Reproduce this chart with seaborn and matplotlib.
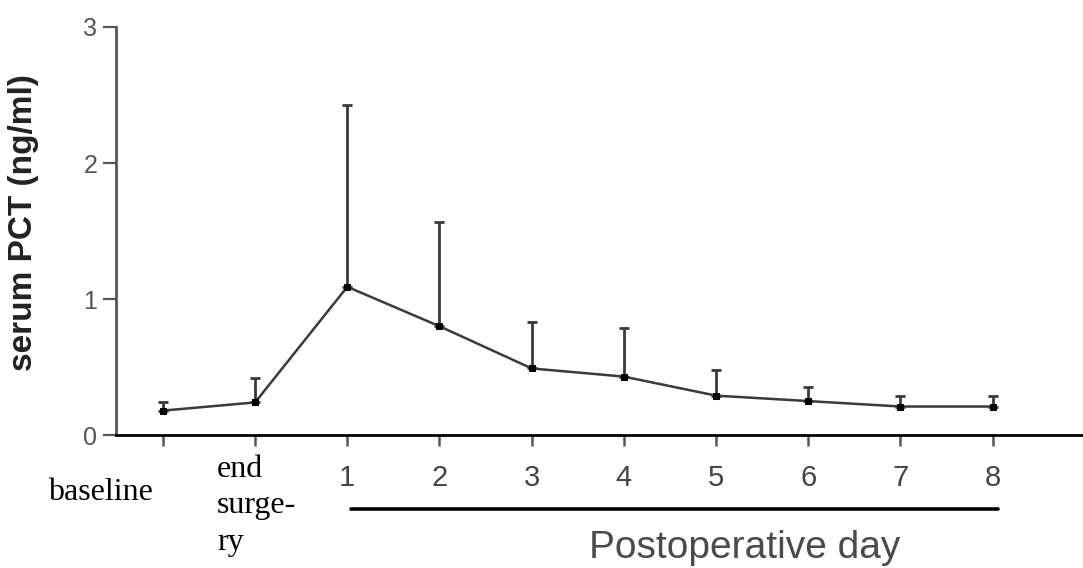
import numpy as np
import pandas as pd
import matplotlib
matplotlib.use("Agg")
import matplotlib.pyplot as plt
import matplotlib.transforms as mtransforms
import seaborn as sns

# Serum procalcitonin over the perioperative course
timepoints = ["baseline", "end surgery", "1", "2", "3", "4", "5", "6", "7", "8"]
pct_mean = [0.18, 0.24, 1.09, 0.80, 0.49, 0.43, 0.29, 0.25, 0.21, 0.21]
pct_upper = [0.24, 0.42, 2.43, 1.57, 0.83, 0.79, 0.48, 0.35, 0.29, 0.29]
y_ticks = [0, 1, 2, 3]
day_labels = ["", "", "1", "2", "3", "4", "5", "6", "7", "8"]

sns.set_style("white")
plt.rcParams["font.family"] = ["Liberation Sans", "DejaVu Sans"]

df = pd.DataFrame({"pos": np.arange(len(timepoints)), "pct": pct_mean,
                   "upper": pct_upper, "timepoint": timepoints})

fig = plt.figure(figsize=(10.83, 5.68), dpi=100)
ax = fig.add_axes([0.107, 0.234, 0.893, 0.7185])

line_col = "#3a3a3a"
err = np.array(pct_upper) - np.array(pct_mean)
ax.errorbar(df["pos"], df["pct"], yerr=[np.zeros_like(err), err], fmt="none",
            ecolor=line_col, elinewidth=2.0, capsize=3.6, capthick=2.0, zorder=2)
sns.lineplot(data=df, x="pos", y="pct", ax=ax, color=line_col, linewidth=1.8,
             marker="s", markersize=5, markerfacecolor="black",
             markeredgecolor="black", zorder=3)

ax.set_xlim(-0.51, 9.98)
ax.set_ylim(0, 3)
ax.set_yticks(y_ticks)
ax.set_yticklabels([str(t) for t in y_ticks], fontsize=18, color="#555555")
ax.set_xticks(df["pos"])
ax.set_xticklabels(day_labels, fontsize=21, color="#444444")
ax.tick_params(axis="y", left=True, length=9.5, width=1.6, color="#555555", pad=4,
               direction="out")
ax.tick_params(axis="x", bottom=True, length=8, width=1.8, color="#555555", pad=13,
               direction="out")

for side in ["top", "right"]:
    ax.spines[side].set_visible(False)
ax.spines["left"].set_color("#555555")
ax.spines["left"].set_linewidth(2.0)
ax.spines["bottom"].set_color("black")
ax.spines["bottom"].set_linewidth(2.0)

ax.set_xlabel("")
ax.set_ylabel("serum PCT (ng/ml)", fontsize=24, fontweight="bold", color="#222222",
              labelpad=16)
ax.yaxis.set_label_coords(-0.08, 0.52)

trans = mtransforms.blended_transform_factory(ax.transData, ax.transAxes)
serif = ["Liberation Serif", "DejaVu Serif"]
ax.text(-0.68, -0.158, "baseline", transform=trans, ha="center", va="baseline",
        fontsize=23, family=serif, color="black")
for txt, yy in [("end", -0.103), ("surge-", -0.191), ("ry", -0.282)]:
    ax.text(0.586, yy, txt, transform=trans, ha="left", va="baseline",
            fontsize=23, family=serif, color="black")

# bracket line spanning the postoperative days
ax.plot([2.04, 9.06], [-0.181, -0.181], transform=trans, color="black",
        linewidth=2.6, clip_on=False)
ax.text(6.31, -0.277, "Postoperative day", transform=trans, ha="center",
        va="center", fontsize=28, color="#4a4a4a")

fig.savefig("out.png", dpi=100)
